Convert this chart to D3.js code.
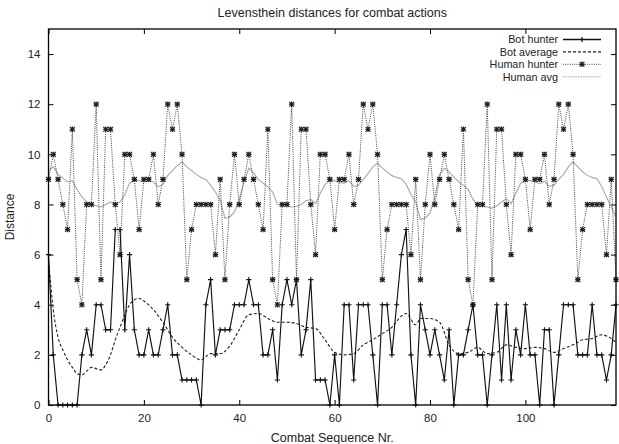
<!DOCTYPE html>
<html>
<head>
<meta charset="utf-8">
<script src="https://cdnjs.cloudflare.com/ajax/libs/d3/7.8.5/d3.min.js"></script>
<style>
  body { margin: 0; background: #fff; }
  text { font-family: "Liberation Sans", Arial, sans-serif; fill: #222; }
</style>
</head>
<body>
<div id="chart"></div>
<script>
// values
var xTicks = [0, 20, 40, 60, 80, 100];
var yTicks = [0, 2, 4, 6, 8, 10, 12, 14];

var botHunter = [6,2,0,0,0,0,0,2,3,2, 4,4,3,3,7,7,3,6,3,2, 2,3,2,2,3,4,2,2,1,1,
  1,1,0,4,5,2,3,3,3,4, 4,4,5,4,4,2,2,3,1,4, 5,4,5,2,3,5,1,1,1,0,
  2,0,4,4,1,4,4,4,2,0, 4,4,2,4,6,7,2,0,4,3, 2,3,2,1,3,0,2,2,3,4,
  2,2,0,2,4,1,4,1,3,2, 4,2,2,0,3,3,0,2,4,4, 4,2,2,2,4,2,2,1,2,4];

var humanHunter = [9,10,9,8,7,11,5,4,8,8, 12,5,11,11,8,6,10,10,9,7, 9,9,10,8,9,12,11,12,10,5,
  7,8,8,8,8,6,9,5,8,10, 8,9,10,9,8,7,11,5,4,8, 8,12,5,11,11,8,6,10,10,9,
  7,9,9,10,8,9,12,11,12,10, 5,7,8,8,8,8,6,9,5,8, 10,8,9,10,9,8,7,11,5,4,
  8,8,12,5,11,11,8,6,10,10, 9,7,9,9,10,8,9,12,11,12, 10,5,7,8,8,8,8,6,9,5];

var botAvgX = [0,1,2,3,4,5,6,7,8,9,10,11,12,13,14,15,16,17,18,19,20,22,24,26,28,30,32,34,36,38,
  40,42,44,46,48,50,52,54,56,58,60,62,64,66,68,70,72,74,75,77,78,80,82,84,86,88,90,92,94,96,
  98,100,102,104,106,108,110,112,114,116,118,119];
var botAvgY = [5.8,3.8,2.7,2.2,1.8,1.5,1.25,1.2,1.35,1.5,1.45,1.4,1.6,2.0,2.6,3.1,3.6,4.0,4.2,4.25,4.15,3.8,3.3,2.7,2.3,2.0,1.8,2.05,2.05,2.35,
  3.0,3.6,3.65,3.45,3.3,3.3,3.25,3.1,3.05,2.6,2.1,2.0,2.05,2.4,2.6,2.85,3.1,3.55,3.65,3.2,3.45,3.45,3.3,2.4,2.05,2.1,2.3,2.05,2.1,2.4,
  2.3,2.25,2.3,2.25,2.1,2.25,2.4,2.6,2.65,2.8,2.65,2.5];

var humanAvg = [9.36,9.5,9.2,9.05,8.9,8.95,8.6,8.3,8.1,8.0, 7.95,7.9,8.0,8.1,8.0,8.1,8.4,8.85,8.95,8.95,
  8.9,8.95,8.9,8.7,8.8,9.15,9.35,9.55,9.7,9.5, 9.35,9.2,9.08,9.0,8.76,8.5,8.17,7.45,7.5,7.7,
  8.2,8.9,9.45,9.25,9.0,8.85,8.7,8.5,8.0,7.97, 7.95,7.9,7.93,8.0,8.15,8.2,8.03,8.45,8.8,8.95,
  8.95,8.88,8.85,8.95,8.72,8.77,9.0,9.23,9.5,9.65, 9.45,9.3,9.15,9.08,9.03,8.8,8.4,8.1,7.4,7.45,
  7.65,8.3,9.2,9.45,9.3,9.1,8.9,8.76,8.6,8.2, 7.97,7.93,7.9,7.85,7.95,8.1,8.23,8.03,8.45,8.85,
  8.93,8.96,8.9,8.83,8.93,8.72,8.77,9.0,9.2,9.5, 9.7,9.5,9.3,9.16,9.08,9.03,8.72,8.3,7.9,7.5];

var W = 619, H = 444;
var pLeft = 48.5, pRight = 616, pTop = 29, pBottom = 405;

var svg = d3.select('#chart').append('svg')
  .attr('width', W).attr('height', H);

var x = d3.scaleLinear().domain([0, 119]).range([pLeft, pRight]);
var y = d3.scaleLinear().domain([0, 15]).range([pBottom, pTop]);

// axes, gnuplot style: inward ticks mirrored on all sides
svg.append('g').attr('transform', 'translate(0,' + pBottom + ')')
  .call(d3.axisBottom(x).tickValues(xTicks).tickSize(-5).tickPadding(9))
  .call(g => g.select('.domain').remove());
svg.append('g').attr('transform', 'translate(0,' + pTop + ')')
  .call(d3.axisTop(x).tickValues(xTicks).tickSize(-5).tickFormat(''))
  .call(g => g.select('.domain').remove());
svg.append('g').attr('transform', 'translate(' + pLeft + ',0)')
  .call(d3.axisLeft(y).tickValues(yTicks).tickSize(-5).tickPadding(8))
  .call(g => g.select('.domain').remove());
svg.append('g').attr('transform', 'translate(' + pRight + ',0)')
  .call(d3.axisRight(y).tickValues(yTicks).tickSize(-5).tickFormat(''))
  .call(g => g.select('.domain').remove());
svg.selectAll('.tick line').attr('stroke', '#000');
svg.selectAll('.tick text').style('font-size', '11.5px').attr('fill', '#222')
  .style('font-family', '"Liberation Sans", Arial, sans-serif');

var lineIdx = d3.line().x((d, i) => x(i)).y(d => y(d));

// human avg (grey)
svg.append('path').datum(humanAvg)
  .attr('d', lineIdx).attr('fill', 'none')
  .attr('stroke', '#a8a8a8').attr('stroke-width', 1.1);

// bot average (dashed, smooth)
var avgLine = d3.line().x(d => x(d[0])).y(d => y(d[1])).curve(d3.curveMonotoneX);
svg.append('path').datum(botAvgX.map((v, i) => [v, botAvgY[i]]))
  .attr('d', avgLine)
  .attr('fill', 'none').attr('stroke', '#222')
  .attr('stroke-width', 1.1).attr('stroke-dasharray', '3,2');

// human hunter (dotted with asterisks)
svg.append('path').datum(humanHunter)
  .attr('d', lineIdx).attr('fill', 'none')
  .attr('stroke', '#444').attr('stroke-width', 1).attr('stroke-dasharray', '1,1.2');

var star = 'M-2.7,0H2.7M0,-2.7V2.7M-2.4,-2.4L2.4,2.4M-2.4,2.4L2.4,-2.4';
svg.selectAll('.hh').data(humanHunter).enter().append('path')
  .attr('class', 'hh')
  .attr('transform', (d, i) => 'translate(' + x(i) + ',' + y(d) + ')')
  .attr('d', star).attr('stroke', '#222').attr('stroke-width', 1.2).attr('fill', 'none');

// bot hunter (solid with plus)
svg.append('path').datum(botHunter)
  .attr('d', lineIdx).attr('fill', 'none')
  .attr('stroke', '#111').attr('stroke-width', 1.15);

var plus = 'M-2.6,0H2.6M0,-2.6V2.6';
svg.selectAll('.bh').data(botHunter).enter().append('path')
  .attr('class', 'bh')
  .attr('transform', (d, i) => 'translate(' + x(i) + ',' + y(d) + ')')
  .attr('d', plus).attr('stroke', '#111').attr('stroke-width', 1.1);

// border
svg.append('rect').attr('x', pLeft).attr('y', pTop)
  .attr('width', pRight - pLeft).attr('height', pBottom - pTop)
  .attr('fill', 'none').attr('stroke', '#000').attr('stroke-width', 1.3);

// legend
var legendNames = ['Bot hunter', 'Bot average', 'Human hunter', 'Human avg'];
var lx = 558, ly = 39.5;
legendNames.forEach(function (name, i) {
  var yy = ly + i * 12.4;
  svg.append('text').attr('x', lx).attr('y', yy + 3.8)
    .attr('text-anchor', 'end').style('font-size', '10.8px').text(name);
  var l = svg.append('line').attr('x1', lx + 5).attr('x2', lx + 43)
    .attr('y1', yy).attr('y2', yy);
  if (i == 0) {
    l.attr('stroke', '#111').attr('stroke-width', 1.3);
    svg.append('path').attr('transform', 'translate(' + (lx + 24) + ',' + yy + ')')
      .attr('d', plus).attr('stroke', '#111').attr('stroke-width', 1.2);
  } else if (i == 1) {
    l.attr('stroke', '#222').attr('stroke-width', 1.1).attr('stroke-dasharray', '3,2');
  } else if (i == 2) {
    l.attr('stroke', '#444').attr('stroke-dasharray', '1,1.2');
    svg.append('path').attr('transform', 'translate(' + (lx + 24) + ',' + yy + ')')
      .attr('d', star).attr('stroke', '#222').attr('stroke-width', 1.2).attr('fill', 'none');
  } else {
    l.attr('stroke', '#a8a8a8').attr('stroke-width', 1.1).attr('stroke-dasharray', '1.5,1');
  }
});

// titles
svg.append('text').attr('x', (pLeft + pRight) / 2).attr('y', 16.5)
  .attr('text-anchor', 'middle').style('font-size', '12.5px')
  .text('Levensthein distances for combat actions');
svg.append('text').attr('x', (pLeft + pRight) / 2).attr('y', 441.5)
  .attr('text-anchor', 'middle').style('font-size', '12.5px')
  .text('Combat Sequence Nr.');
svg.append('text').attr('transform', 'translate(14,' + ((pTop + pBottom) / 2) + ') rotate(-90)')
  .attr('text-anchor', 'middle').style('font-size', '12px')
  .text('Distance');
</script>
</body>
</html>
